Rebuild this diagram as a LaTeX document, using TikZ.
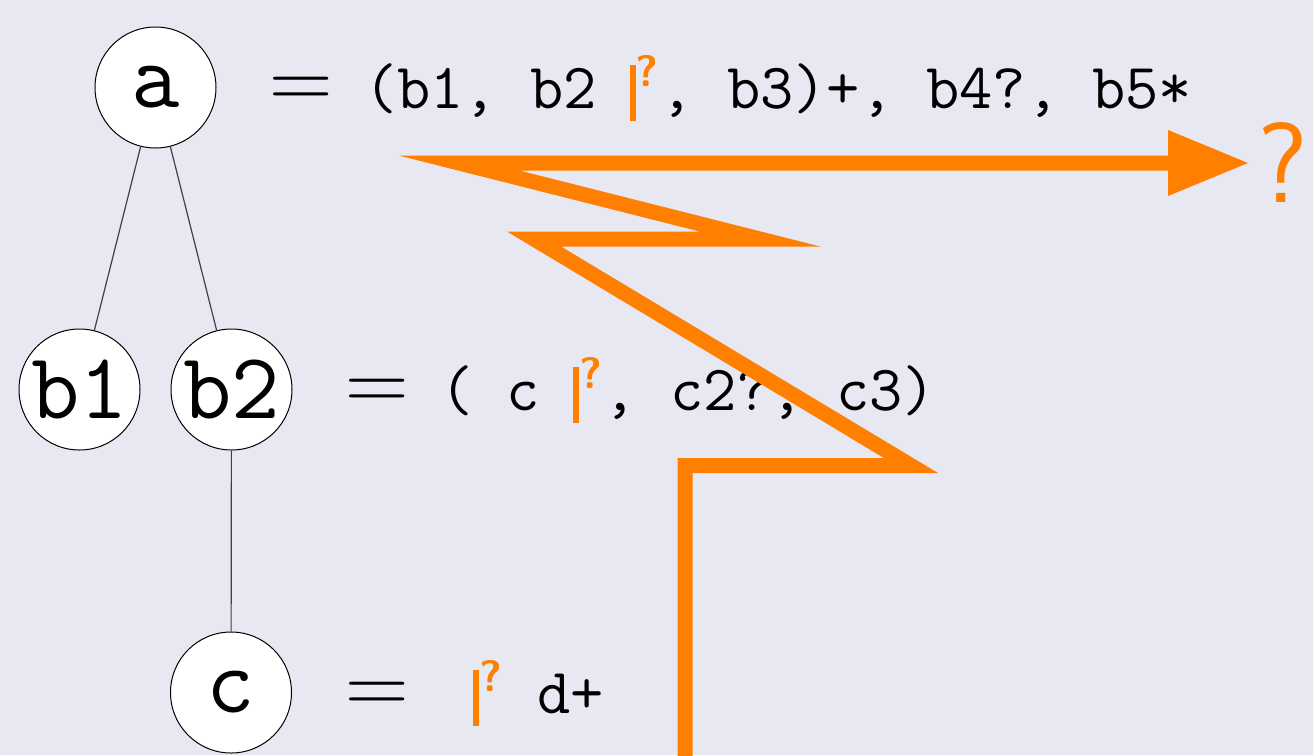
\documentclass[tikz,border=0pt]{standalone}
\usetikzlibrary{arrows.meta}
\definecolor{bg}{RGB}{232,232,243}
\definecolor{orng}{RGB}{255,128,0}
\newcommand\qins{{\color{orng}\rule[-13pt]{6pt}{56pt}\raisebox{22pt}{\sffamily\bfseries\fontsize{44}{44}\selectfont ?}\kern2pt}}
\tikzset{
  tnode/.style={circle,draw=black,line width=1pt,fill=white,minimum size=121pt,inner sep=0pt,
    font=\ttfamily\fontsize{94}{94}\selectfont},
  eqsign/.style={anchor=base west,inner sep=0pt,font=\rmfamily\fontsize{88}{88}\selectfont},
  code/.style={anchor=base west,inner sep=0pt,font=\ttfamily\fontsize{64.5}{64.5}\selectfont\frenchspacing},
  treeedge/.style={draw=black!75,line width=1.2pt},
  zig/.style={draw=orng,line width=15pt,line join=miter,miter limit=10,
    -{Triangle[length=80pt,width=66pt,line width=0pt]}}
}
\begin{document}
\begin{tikzpicture}[x=1pt,y=-1pt]
\fill[bg] (0,0) rectangle (1313,755);
\useasboundingbox (0,0) rectangle (1313,755);
\clip (0,0) rectangle (1313,755);

% tree
\node[tnode] (a)  at (155.5,87.5) {a};
\node[tnode] (b1) at (79.5,389.5) {b1};
\node[tnode] (b2) at (231.5,389.5) {b2};
\node[tnode] (c)  at (231,692.5) {c};
\draw[treeedge] (a) -- (b1);
\draw[treeedge] (a) -- (b2);
\draw[treeedge] (b2) -- (c);

% rules
\node[eqsign] (eq1) at (269,108) {=};
\node[code] (l1) at (364,108) {(b1, b2 \qins, b3)+, b4?, b5*};
\node[eqsign] (eq2) at (345,410) {=};
\node[code] (l2) at (440,410) {( c \qins, c2?, c3)};
\node[eqsign] (eq3) at (345,713) {=};
\node[code] (l3) at (473,713) {\qins{} d+};

% zigzag path
\node[anchor=base west,inner sep=0pt,text=orng,font=\sffamily\fontsize{114}{114}\selectfont] (q) at (1257,202) {?};
\coordinate (z0) at (685,790);
\coordinate (z1) at (685,465.5);
\coordinate (z2) at (911,465.5);
\coordinate (z3) at (534,239);
\coordinate (z4) at (760,239);
\coordinate (z5) at (459,163);
\coordinate (z6) at (1248,163);
\draw[zig] (z0) -- (z1) -- (z2) -- (z3) -- (z4) -- (z5) -- (z6);
\end{tikzpicture}
\end{document}
